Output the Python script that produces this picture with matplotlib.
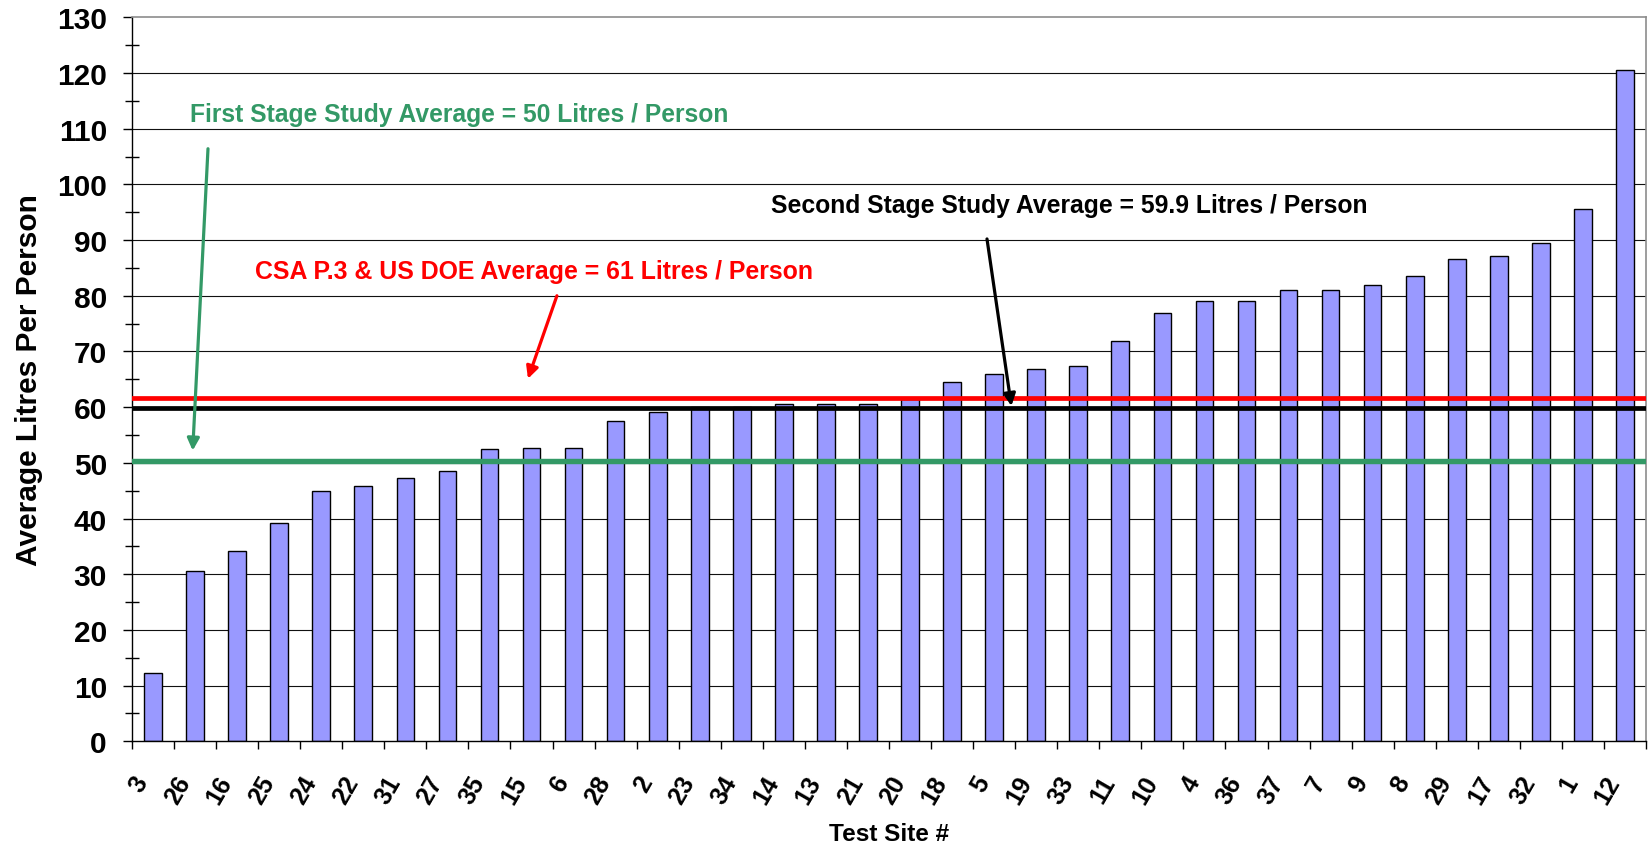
import matplotlib
matplotlib.use("Agg")
import matplotlib.pyplot as plt
from matplotlib.ticker import MultipleLocator, FixedLocator
import numpy as np

plt.rcParams['font.family'] = ['Liberation Sans', 'DejaVu Sans']
plt.rcParams['font.weight'] = 'bold'

# ---- data ----
sites = ["3", "26", "16", "25", "24", "22", "31", "27", "35", "15", "6", "28",
         "2", "23", "34", "14", "13", "21", "20", "18", "5", "19", "33", "11",
         "10", "4", "36", "37", "7", "9", "8", "29", "17", "32", "1", "12"]
litres = [12.3, 30.6, 34.2, 39.2, 44.9, 45.9, 47.3, 48.5, 52.4, 52.7, 52.7, 57.6,
          59.2, 60.0, 60.0, 60.5, 60.5, 60.5, 61.5, 64.6, 66.0, 66.9, 67.4, 71.9,
          76.9, 79.1, 79.1, 81.1, 81.1, 81.9, 83.6, 86.6, 87.2, 89.4, 95.6, 120.6]

first_stage_avg = 50.4
csa_doe_avg = 61.7
second_stage_avg = 59.9

first_label = "First Stage Study Average = 50 Litres / Person"
csa_label = "CSA P.3 & US DOE Average = 61 Litres / Person"
second_label = "Second Stage Study Average = 59.9 Litres / Person"

y_ticks = list(range(0, 131, 10))

BAR = "#9999FF"
GREEN = "#339966"
RED = "#FF0000"
BLACK = "#000000"

W, H = 1649, 845
fig = plt.figure(figsize=(W / 100, H / 100), dpi=100)
ax = fig.add_axes([132 / W, 1 - 742.3 / H, (1646 - 132) / W, (742.3 - 18.3) / H])

x = np.arange(len(sites))
ax.bar(x, litres, width=0.42, color=BAR, edgecolor="black", linewidth=1.0, zorder=2)

ax.set_xlim(-0.5, len(sites) - 0.5)
ax.set_ylim(0, 130)

# grid
for t in y_ticks[1:-1]:
    ax.axhline(t, color="#111111", lw=0.8, zorder=1)

# average lines
ax.axhline(first_stage_avg, color=GREEN, lw=3.9, zorder=3)
ax.axhline(second_stage_avg, color=BLACK, lw=3.4, zorder=3)
ax.axhline(csa_doe_avg, color=RED, lw=3.4, zorder=3)

# spines
for s in ["left", "bottom"]:
    ax.spines[s].set_color("black")
    ax.spines[s].set_linewidth(1.0)
for s in ["top", "right"]:
    ax.spines[s].set_color("#8c8c8c")
    ax.spines[s].set_linewidth(1.2)

# y ticks
ax.set_yticks(y_ticks)
ax.set_yticklabels([str(t) for t in y_ticks], fontsize=21.5, fontweight="bold")
ax.yaxis.set_minor_locator(MultipleLocator(5))
ax.tick_params(axis="y", which="major", direction="out", length=6.5, width=1, pad=11.5)
ax.tick_params(axis="y", which="minor", direction="inout", length=10, width=1)

# x ticks: labels at centres, tick marks at boundaries
ax.set_xticks(x)
ax.set_xticklabels(sites, fontsize=18, fontweight="bold", rotation=60, ha="right")
ax.xaxis.set_minor_locator(FixedLocator(np.arange(-0.5, len(sites), 1.0)))
ax.tick_params(axis="x", which="major", length=0, pad=21.5)
ax.tick_params(axis="x", which="minor", direction="out", length=6, width=1)

# axis labels
fig.text(29 / W, 1 - 380 / H, "Average Litres Per Person", rotation=90,
         ha="center", va="center", fontsize=21.5, fontweight="bold")
fig.text(889 / W, 1 - 841.5 / H, "Test Site #", ha="center", va="baseline",
         fontsize=17.6, fontweight="bold")

# annotations
ax.text(0.879, 111.4, first_label, color=GREEN, fontsize=17.7, fontweight="bold",
        ha="left", va="baseline", zorder=5)
ax.text(2.424, 83.1, csa_label, color=RED, fontsize=17.9, fontweight="bold",
        ha="left", va="baseline", zorder=5)
ax.text(14.69, 95.0, second_label, color=BLACK, fontsize=17.8, fontweight="bold",
        ha="left", va="baseline", zorder=5)

arrow_kw = dict(arrowstyle="-|>", lw=2.3, shrinkA=0, shrinkB=0, mutation_scale=18)
ax.annotate("", xy=(0.943, 52.2), xytext=(1.307, 106.4),
            arrowprops=dict(color=GREEN, **arrow_kw), zorder=5)
ax.annotate("", xy=(8.915, 65.1), xytext=(9.604, 80.0),
            arrowprops=dict(color=RED, **arrow_kw), zorder=5)
ax.annotate("", xy=(20.41, 60.2), xytext=(19.83, 90.2),
            arrowprops=dict(color=BLACK, **arrow_kw), zorder=5)

fig.savefig("out.png", dpi=100)
